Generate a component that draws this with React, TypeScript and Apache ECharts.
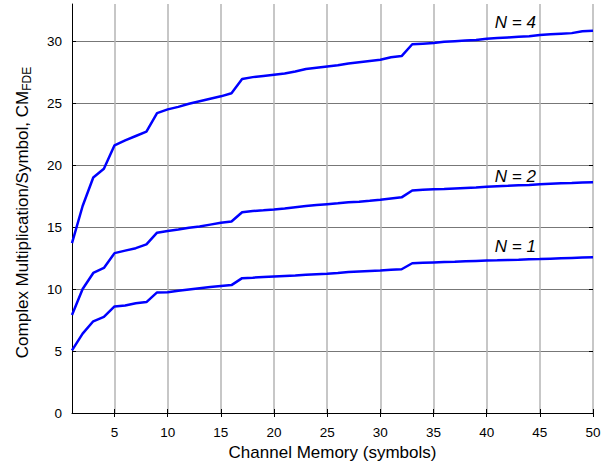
import React, { useEffect, useRef } from "react";
import * as echarts from "echarts";

const memory = Array.from({ length: 50 }, (_, i) => i + 1);

const n4Values = [13.7, 16.7, 19.0, 19.7, 21.6, 22.0, 22.35, 22.7, 24.2, 24.5, 24.7, 24.95, 25.15, 25.35, 25.55, 25.8, 26.95, 27.1, 27.2, 27.3, 27.4, 27.55, 27.75, 27.85, 27.95, 28.05, 28.2, 28.3, 28.4, 28.5, 28.7, 28.8, 29.75, 29.8, 29.85, 29.95, 30.0, 30.05, 30.1, 30.2, 30.25, 30.3, 30.35, 30.4, 30.5, 30.55, 30.6, 30.65, 30.8, 30.85];
const n2Values = [7.9, 10.0, 11.3, 11.7, 12.9, 13.1, 13.3, 13.6, 14.55, 14.68, 14.8, 14.95, 15.05, 15.2, 15.35, 15.45, 16.2, 16.3, 16.35, 16.42, 16.5, 16.6, 16.7, 16.78, 16.85, 16.92, 17.0, 17.05, 17.12, 17.2, 17.3, 17.4, 17.95, 18.02, 18.05, 18.08, 18.12, 18.16, 18.2, 18.25, 18.3, 18.33, 18.37, 18.4, 18.45, 18.5, 18.53, 18.56, 18.6, 18.62];
const n1Values = [5.05, 6.4, 7.4, 7.75, 8.6, 8.68, 8.85, 8.95, 9.73, 9.75, 9.87, 9.97, 10.07, 10.16, 10.24, 10.32, 10.88, 10.92, 10.97, 11.02, 11.06, 11.1, 11.15, 11.2, 11.24, 11.3, 11.37, 11.42, 11.46, 11.5, 11.55, 11.6, 12.08, 12.12, 12.15, 12.18, 12.2, 12.24, 12.27, 12.3, 12.32, 12.35, 12.37, 12.4, 12.42, 12.45, 12.48, 12.51, 12.54, 12.56];

const seriesNames = ["N = 4", "N = 2", "N = 1"];
const labelPositions: [number, number][] = [[42.7, 31.5], [42.7, 19.1], [42.7, 13.4]];

const xTicks = [5, 10, 15, 20, 25, 30, 35, 40, 45, 50];
const yTicks = [0, 5, 10, 15, 20, 25, 30];

const FONT = "Liberation Sans, Arial, Helvetica, sans-serif";

export default function App() {
  const ref = useRef<HTMLDivElement>(null);
  useEffect(() => {
    if (!ref.current) return;
    const chart = echarts.init(ref.current, undefined, { renderer: "svg" });
    const all = [n4Values, n2Values, n1Values];
    chart.setOption({
      animation: false,
      backgroundColor: "#ffffff",
      grid: { left: 72, right: 23, top: 4, bottom: 50, containLabel: false, outerBoundsMode: "none" },
      xAxis: [
        {
          type: "value",
          min: 1,
          max: 50,
          name: "Channel Memory (symbols)",
          nameLocation: "middle",
          nameGap: 30,
          nameTextStyle: { fontFamily: FONT, fontSize: 17, color: "#000" },
          axisLine: { show: true, lineStyle: { color: "#000", width: 1 } },
          axisTick: { show: true, inside: true, length: 4, customValues: xTicks, lineStyle: { color: "#000" } },
          axisLabel: { customValues: xTicks, fontFamily: FONT, fontSize: 13.5, color: "#000", margin: 12 },
          splitLine: { show: true, lineStyle: { color: "#b4b4b4", width: 1.5 } },
        },
        {
          type: "value",
          min: 1,
          max: 50,
          position: "top",
          axisLine: { show: false },
          axisTick: { show: true, inside: true, length: 4, customValues: xTicks, lineStyle: { color: "#000" } },
          axisLabel: { show: false },
          splitLine: { show: false },
        },
      ],
      yAxis: [
        {
          type: "value",
          min: 0,
          max: 33,
          name: "Complex Multiplication/Symbol, CM{sub|FDE}",
          nameLocation: "middle",
          nameGap: 39,
          nameTextStyle: {
            fontFamily: FONT,
            fontSize: 17,
            color: "#000",
            padding: [0, 8, 0, 0],
            rich: { sub: { fontFamily: FONT, fontSize: 12, color: "#000", verticalAlign: "bottom", padding: [9, 0, 0, 0] } },
          },
          axisLine: { show: true, lineStyle: { color: "#000", width: 1 } },
          axisTick: { show: true, inside: true, length: 4, customValues: yTicks, lineStyle: { color: "#000" } },
          axisLabel: { customValues: yTicks, fontFamily: FONT, fontSize: 13.5, color: "#000", margin: 10 },
          splitLine: { show: true, lineStyle: { color: "#777777", width: 1 } },
        },
        {
          type: "value",
          min: 0,
          max: 33,
          position: "right",
          axisLine: { show: false },
          axisTick: { show: true, inside: true, length: 4, customValues: yTicks, lineStyle: { color: "#000" } },
          axisLabel: { show: false },
          splitLine: { show: false },
        },
      ],
      series: all.map((vals, i) => ({
        type: "line",
        name: seriesNames[i],
        data: memory.map((m, j) => [m, vals[j]]),
        showSymbol: false,
        lineStyle: { color: "#0000ff", width: 2.5 },
        itemStyle: { color: "#0000ff" },
        markPoint: {
          symbol: "circle",
          symbolSize: 0,
          data: [
            {
              coord: labelPositions[i],
              label: {
                show: true,
                formatter: seriesNames[i],
                fontFamily: FONT,
                fontStyle: "italic",
                fontSize: 17,
                color: "#000",
                position: "inside",
              },
            },
          ],
        },
      })),
    });
    return () => chart.dispose();
  }, []);
  return <div ref={ref} style={{ width: 616, height: 463, position: "absolute", left: 0, top: 0 }} />;
}
